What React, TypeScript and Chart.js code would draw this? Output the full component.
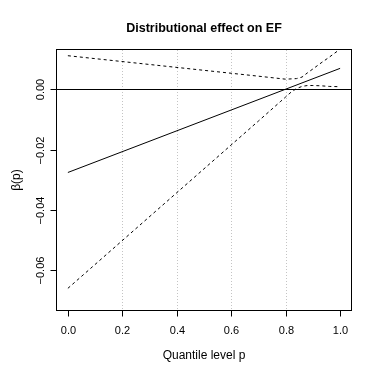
import React, { useEffect, useRef } from "react";
import { Chart, registerables } from "chart.js";

Chart.register(...registerables);

const TITLE = "Distributional effect on EF";
const X_LABEL = "Quantile level p";
const Y_LABEL = "β(p)";

const xTicks = [0, 0.2, 0.4, 0.6, 0.8, 1.0];
const xTickLabels = ["0.0", "0.2", "0.4", "0.6", "0.8", "1.0"];
const yTicks = [-0.06, -0.04, -0.02, 0.0];
const yTickLabels = ["−0.06", "−0.04", "−0.02", "0.00"];
const gridX = [0.2, 0.4, 0.6, 0.8];

const estP = [0, 1.0];
const estimate = [-0.0276, 0.007];

const bandP = [0, 0.7, 0.75, 0.78, 0.8, 0.82, 0.84, 0.86, 0.88, 0.9, 0.93, 0.96, 1.0];
const upperBand = [0.0112, 0.0044, 0.0039, 0.0036, 0.0034, 0.0035, 0.0036, 0.0041, 0.0055, 0.0068, 0.0088, 0.0107, 0.0134];
const lowerBand = [-0.0661, -0.0105, -0.0065, -0.0041, -0.0025, -0.0009, 0.0003, 0.001, 0.0013, 0.0013, 0.0012, 0.001, 0.0009];

const FONT = "'Liberation Sans', Arial, Helvetica, sans-serif";

const rPlot = {
  id: "rPlot",
  beforeDatasetsDraw(chart: any) {
    const { ctx, chartArea: a, scales } = chart;
    const xs = scales.x;
    const ys = scales.y;
    ctx.save();
    ctx.strokeStyle = "#C4C4C4";
    ctx.lineWidth = 1;
    ctx.setLineDash([1, 2]);
    gridX.forEach((v) => {
      const px = Math.round(xs.getPixelForValue(v)) + 0.5;
      ctx.beginPath();
      ctx.moveTo(px, a.top);
      ctx.lineTo(px, a.bottom);
      ctx.stroke();
    });
    ctx.setLineDash([]);
    ctx.strokeStyle = "#000";
    const py0 = Math.round(ys.getPixelForValue(0)) + 0.5;
    ctx.beginPath();
    ctx.moveTo(a.left, py0);
    ctx.lineTo(a.right, py0);
    ctx.stroke();
    ctx.restore();
  },
  afterDatasetsDraw(chart: any) {
    const { ctx, chartArea: a, scales } = chart;
    const xs = scales.x;
    const ys = scales.y;
    ctx.save();
    ctx.strokeStyle = "#000";
    ctx.lineWidth = 1;
    ctx.setLineDash([]);
    ctx.strokeRect(a.left - 0.5, a.top - 0.5, a.right - a.left + 1, a.bottom - a.top + 1);

    // x axis ticks
    ctx.fillStyle = "#000";
    ctx.font = `11px ${FONT}`;
    ctx.textAlign = "center";
    ctx.textBaseline = "alphabetic";
    const xb = a.bottom + 0.5;
    ctx.beginPath();
    ctx.moveTo(Math.round(xs.getPixelForValue(xTicks[0])) + 0.5, xb);
    ctx.lineTo(Math.round(xs.getPixelForValue(xTicks[xTicks.length - 1])) + 0.5, xb);
    ctx.stroke();
    xTicks.forEach((v, i) => {
      const px = Math.round(xs.getPixelForValue(v)) + 0.5;
      ctx.beginPath();
      ctx.moveTo(px, xb);
      ctx.lineTo(px, xb + 6);
      ctx.stroke();
      ctx.fillText(xTickLabels[i], px, 334);
    });

    // y axis ticks
    const yl = a.left - 0.5;
    ctx.beginPath();
    ctx.moveTo(yl, Math.round(ys.getPixelForValue(yTicks[0])) + 0.5);
    ctx.lineTo(yl, Math.round(ys.getPixelForValue(yTicks[yTicks.length - 1])) + 0.5);
    ctx.stroke();
    yTicks.forEach((v, i) => {
      const py = Math.round(ys.getPixelForValue(v)) + 0.5;
      ctx.beginPath();
      ctx.moveTo(yl, py);
      ctx.lineTo(yl - 6, py);
      ctx.stroke();
      ctx.save();
      ctx.translate(44, py);
      ctx.rotate(-Math.PI / 2);
      ctx.textAlign = "center";
      ctx.textBaseline = "alphabetic";
      ctx.fillText(yTickLabels[i], 0, 0);
      ctx.restore();
    });

    // axis titles
    ctx.font = `12px ${FONT}`;
    ctx.textAlign = "center";
    ctx.fillText(X_LABEL, (a.left + a.right) / 2, 359);
    ctx.save();
    ctx.translate(20, (a.top + a.bottom) / 2);
    ctx.rotate(-Math.PI / 2);
    ctx.fillText(Y_LABEL, 0, 0);
    ctx.restore();

    // title
    ctx.font = `bold 12.5px ${FONT}`;
    ctx.fillText(TITLE, (a.left + a.right) / 2, 32);
    ctx.restore();
  },
};

export default function App() {
  const ref = useRef<HTMLCanvasElement | null>(null);
  useEffect(() => {
    document.body.style.margin = "0";
    const canvas = ref.current;
    if (!canvas) return;
    const lineDs = (label: string, xsArr: number[], ysArr: number[], dashed: boolean) => ({
      label,
      data: xsArr.map((x, i) => ({ x, y: ysArr[i] })),
      borderColor: "#000",
      backgroundColor: "#000",
      borderWidth: 1,
      borderDash: dashed ? [3, 3] : [],
      pointRadius: 0,
      tension: 0,
      fill: false,
    });
    const chart = new Chart(canvas, {
      type: "line",
      data: {
        datasets: [
          lineDs("estimate", estP, estimate, false),
          lineDs("upper", bandP, upperBand, true),
          lineDs("lower", bandP, lowerBand, true),
        ],
      },
      options: {
        animation: false,
        responsive: false,
        devicePixelRatio: 1,
        layout: { padding: { left: 57, right: 23, top: 50, bottom: 64 } },
        plugins: { legend: { display: false }, tooltip: { enabled: false }, title: { display: false } },
        scales: {
          x: { type: "linear", min: -0.04, max: 1.04, display: false },
          y: { type: "linear", min: -0.0733, max: 0.0131, display: false },
        },
      },
      plugins: [rPlot],
    });
    return () => chart.destroy();
  }, []);
  return (
    <div style={{ width: 374, height: 374, background: "#fff" }}>
      <canvas ref={ref} width={374} height={374} style={{ display: "block" }} />
    </div>
  );
}
